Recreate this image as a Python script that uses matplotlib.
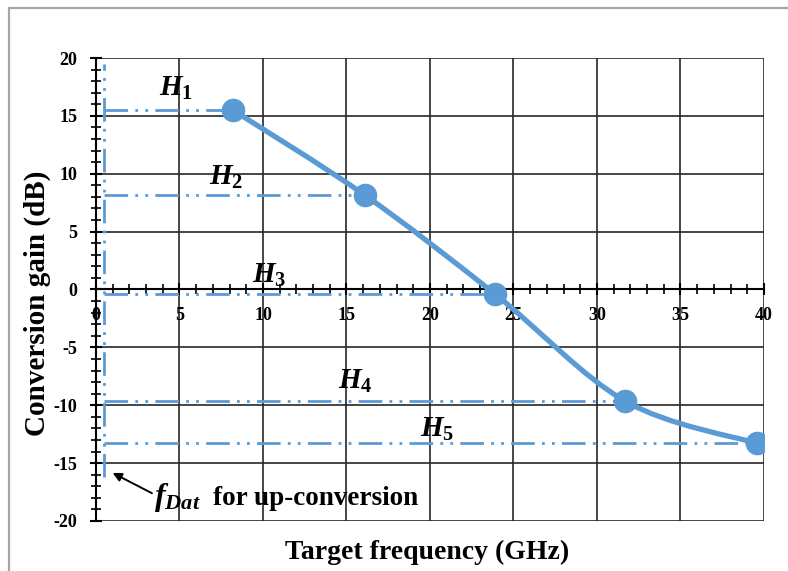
import numpy as np
import matplotlib
matplotlib.use('Agg')
import matplotlib.pyplot as plt
from matplotlib.path import Path
from matplotlib.patches import PathPatch, Rectangle

plt.rcParams['font.family'] = 'Liberation Serif'
plt.rcParams['font.weight'] = 'bold'
plt.rcParams['axes.labelweight'] = 'bold'
plt.rcParams['axes.unicode_minus'] = False
plt.rcParams['mathtext.fontset'] = 'custom'
plt.rcParams['mathtext.it'] = 'Liberation Serif:bold:italic'
plt.rcParams['mathtext.rm'] = 'Liberation Serif:bold'
plt.rcParams['mathtext.bf'] = 'Liberation Serif:bold'

# data
freq_ghz = [8.2, 16.1, 23.9, 31.7, 39.6]
gain_db = [15.5, 8.15, -0.4, -9.65, -13.3]
h_labels = [r'$H_1$', r'$H_2$', r'$H_3$', r'$H_4$', r'$H_5$']
h_label_pos = [(4.8, 17.4), (7.8, 9.7), (10.4, 1.2), (15.5, -7.9), (20.4, -12.1)]
f_dat = 0.48
f_dat_span = (-16.2, 19.5)

blue = '#5B9BD5'
dashdotdot = (0, (8.5, 2.6, 1.0, 2.6, 1.0, 2.6))

fig = plt.figure(figsize=(7.88, 5.71), dpi=100)
ax = fig.add_axes([0.1218, 0.0876, 0.8477, 0.8108])

# outer chart frame
fig.patches.append(Rectangle((9 / 788, -0.05), 1.2, 1 - 8 / 571 + 0.05,
                             transform=fig.transFigure, fill=False,
                             edgecolor='#A6A6A6', linewidth=1.6))

ax.set_xlim(0, 40)
ax.set_ylim(-20, 20)
ax.set_xticks(np.arange(0, 41, 5))
ax.set_yticks(np.arange(-20, 21, 5))
ax.set_xticks(np.arange(0, 41, 1), minor=True)
ax.set_yticks(np.arange(-20, 21, 1), minor=True)
ax.grid(True, which='major', color='#262626', linewidth=1.2)
ax.set_axisbelow(True)

ax.spines['bottom'].set_position(('data', 0))
ax.spines['top'].set_visible(False)
ax.spines['right'].set_visible(False)
for s in ['left', 'bottom']:
    ax.spines[s].set_linewidth(1.5)
    ax.spines[s].set_color('black')
ax.tick_params(which='major', direction='inout', length=9, width=1.5,
               labelsize=13)
ax.tick_params(which='minor', direction='inout', length=7, width=1.2)
ax.tick_params(axis='x', which='major', pad=8)
ax.tick_params(axis='y', which='major', pad=9)
for t in ax.get_xticklabels() + ax.get_yticklabels():
    t.set_fontweight('bold')

# horizontal guides to each point and the f_Dat vertical
for xv, yv in zip(freq_ghz, gain_db):
    ax.plot([f_dat, xv], [yv, yv], color=blue, lw=2.0, linestyle=dashdotdot,
            zorder=3)
ax.plot([f_dat, f_dat], list(f_dat_span), color=blue, lw=2.0,
        linestyle=dashdotdot, zorder=3)

# smoothed curve (excel-like bezier)
pts = np.column_stack([freq_ghz, gain_db])
verts = [tuple(pts[0])]
codes = [Path.MOVETO]
n = len(pts)
for i in range(n - 1):
    p0 = pts[max(i - 1, 0)]
    p1 = pts[i]
    p2 = pts[i + 1]
    p3 = pts[min(i + 2, n - 1)]
    c1 = p1 + (p2 - p0) / 6
    c2 = p2 - (p3 - p1) / 6
    verts += [tuple(c1), tuple(c2), tuple(p2)]
    codes += [Path.CURVE4] * 3
ax.add_patch(PathPatch(Path(verts, codes), fill=False, edgecolor=blue,
                       lw=3.8, zorder=4, capstyle='round'))
ax.plot(freq_ghz, gain_db, 'o', color=blue, markersize=16, zorder=5)

for lab, (xv, yv) in zip(h_labels, h_label_pos):
    ax.text(xv, yv, lab, fontsize=21, ha='center', va='center', zorder=6)

# f_Dat note
ax.text(3.45, -18.6, r'$f_{Dat}$', fontsize=23, ha='left', va='baseline')
ax.text(7.0, -18.6, 'for up-conversion', fontsize=19.5, ha='left',
        va='baseline', fontweight='bold')
ax.annotate('', xy=(1.0, -15.85), xytext=(3.35, -17.6),
            arrowprops=dict(arrowstyle='-|>', color='black', lw=1.4,
                            shrinkA=0, shrinkB=0, mutation_scale=13))

ax.set_ylabel('Conversion gain (dB)', fontsize=21, fontweight='bold')
ax.yaxis.set_label_coords(-0.068, 0.471)
fig.text(0.542, 0.033, 'Target frequency (GHz)', fontsize=20, ha='center',
         va='center', fontweight='bold')

fig.savefig('out.png', dpi=100)
